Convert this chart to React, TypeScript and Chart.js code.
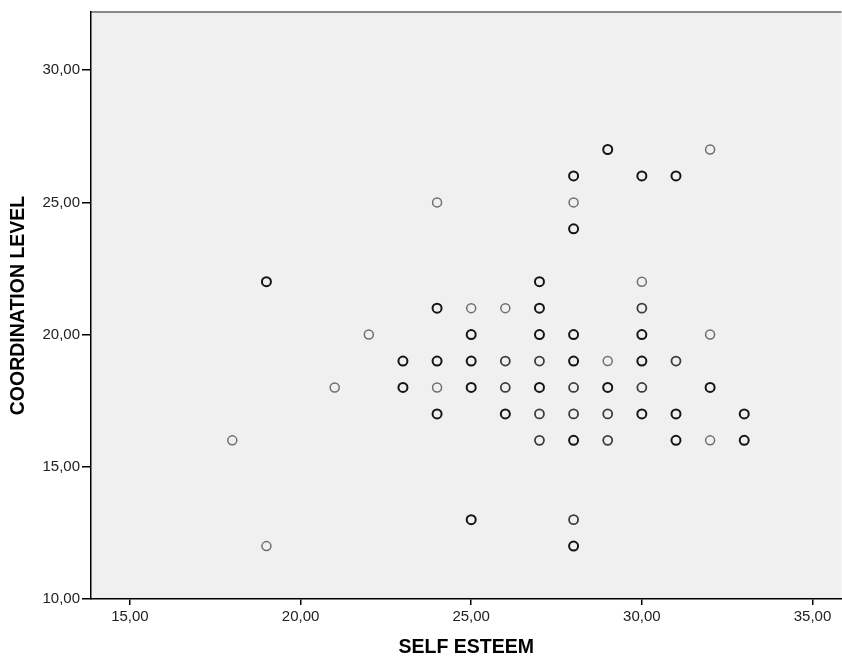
import React, { useEffect, useRef } from "react";
import { Chart, registerables } from "chart.js";

Chart.register(...registerables);

// Self esteem (x), coordination level (y), and number of overlapping cases
const selfEsteem = [
  18, 19, 19, 21, 22, 23, 23, 24, 24, 24, 24, 24, 25, 25, 25, 25, 25, 26, 26, 26, 26,
  27, 27, 27, 27, 27, 27, 27, 28, 28, 28, 28, 28, 28, 28, 28, 28, 28, 29, 29, 29, 29, 29,
  30, 30, 30, 30, 30, 30, 30, 31, 31, 31, 31, 32, 32, 32, 32, 33, 33,
];
const coordination = [
  16, 12, 22, 18, 20, 19, 18, 25, 21, 19, 18, 17, 21, 20, 19, 18, 13, 21, 19, 18, 17,
  22, 21, 20, 19, 18, 17, 16, 26, 25, 24, 20, 19, 18, 17, 16, 13, 12, 27, 19, 18, 17, 16,
  26, 22, 21, 20, 19, 18, 17, 26, 19, 17, 16, 27, 20, 18, 16, 17, 16,
];
const caseCounts = [
  1, 1, 3, 1, 1, 3, 3, 1, 3, 3, 1, 3, 1, 3, 3, 3, 3, 1, 2, 2, 3,
  3, 3, 3, 2, 3, 2, 2, 3, 1, 3, 3, 3, 2, 2, 3, 2, 3, 3, 1, 3, 2, 2,
  3, 1, 2, 3, 3, 2, 3, 3, 2, 3, 3, 1, 1, 3, 1, 3, 3,
];
const xTickValues = [15, 20, 25, 30, 35];
const yTickValues = [10, 15, 20, 25, 30];
const xTitle = "SELF ESTEEM";
const yTitle = "COORDINATION LEVEL";

const fmt = (v: number) => v.toFixed(2).replace(".", ",");
const FONT = "'Liberation Sans', Arial, sans-serif";

const bgPlugin = {
  id: "plotBg",
  beforeDraw(chart: any) {
    const { ctx, chartArea } = chart;
    ctx.save();
    ctx.fillStyle = "#f0f0f0";
    ctx.fillRect(chartArea.left, chartArea.top, chartArea.right - chartArea.left, chartArea.bottom - chartArea.top);
    ctx.strokeStyle = "#8a8a8a";
    ctx.lineWidth = 2;
    ctx.beginPath();
    ctx.moveTo(chartArea.left, chartArea.top);
    ctx.lineTo(chartArea.right, chartArea.top);
    ctx.stroke();
    ctx.restore();
  },
};

export default function App() {
  const ref = useRef<HTMLCanvasElement>(null);
  useEffect(() => {
    if (!ref.current) return;
    const colorFor = (c: number) => (c >= 3 ? "#151515" : c === 2 ? "#3c3c3c" : "#6e6e6e");
    const widthFor = (c: number) => (c >= 3 ? 2 : c === 2 ? 1.8 : 1.5);
    const chart = new Chart(ref.current, {
      type: "scatter",
      data: {
        datasets: [
          {
            data: selfEsteem.map((x, i) => ({ x, y: coordination[i] })),
            pointRadius: 4.5,
            pointBackgroundColor: "rgba(0,0,0,0)",
            pointBorderColor: caseCounts.map(colorFor),
            pointBorderWidth: caseCounts.map(widthFor),
          },
        ],
      },
      plugins: [bgPlugin],
      options: {
        responsive: false,
        animation: false,
        layout: { padding: { top: 12, right: 0, left: 0, bottom: 0 } },
        plugins: { legend: { display: false }, tooltip: { enabled: false } },
        scales: {
          x: {
            type: "linear",
            min: 13.86,
            max: 35.85,
            afterBuildTicks: (s: any) => {
              s.ticks = xTickValues.map((v) => ({ value: v }));
            },
            afterFit: (s: any) => {
              s.height = 60;
              s.paddingLeft = 0;
              s.paddingRight = 0;
            },
            grid: { display: true, drawOnChartArea: false, drawTicks: true, tickLength: 6, color: "#000", lineWidth: 1.5 },
            border: { display: true, color: "#000", width: 1.5 },
            ticks: {
              callback: (v: any) => fmt(Number(v)),
              color: "#222",
              padding: 3,
              font: { family: FONT, size: 15 },
            },
            title: {
              display: true,
              text: xTitle,
              color: "#000",
              padding: { top: 6, bottom: 0 },
              font: { family: FONT, size: 19.5, weight: "bold" },
            },
          },
          y: {
            type: "linear",
            min: 10,
            max: 32.2,
            afterBuildTicks: (s: any) => {
              s.ticks = yTickValues.map((v) => ({ value: v }));
            },
            afterFit: (s: any) => {
              s.width = 91;
              s.paddingTop = 0;
              s.paddingBottom = 0;
            },
            grid: { display: true, drawOnChartArea: false, drawTicks: true, tickLength: 9, color: "#000", lineWidth: 1.5 },
            border: { display: true, color: "#000", width: 1.5 },
            ticks: {
              callback: (v: any) => fmt(Number(v)),
              color: "#222",
              padding: 2,
              font: { family: FONT, size: 15 },
            },
            title: {
              display: true,
              text: yTitle,
              color: "#000",
              padding: { top: 7, bottom: 0 },
              font: { family: FONT, size: 19.5, weight: "bold" },
            },
          },
        },
      },
    } as any);
    return () => chart.destroy();
  }, []);
  return (
    <div style={{ position: "fixed", left: 0, top: 0, width: 842, height: 659, background: "#fff", overflow: "hidden" }}>
      <canvas ref={ref} width={848} height={659} style={{ display: "block" }} />
    </div>
  );
}
